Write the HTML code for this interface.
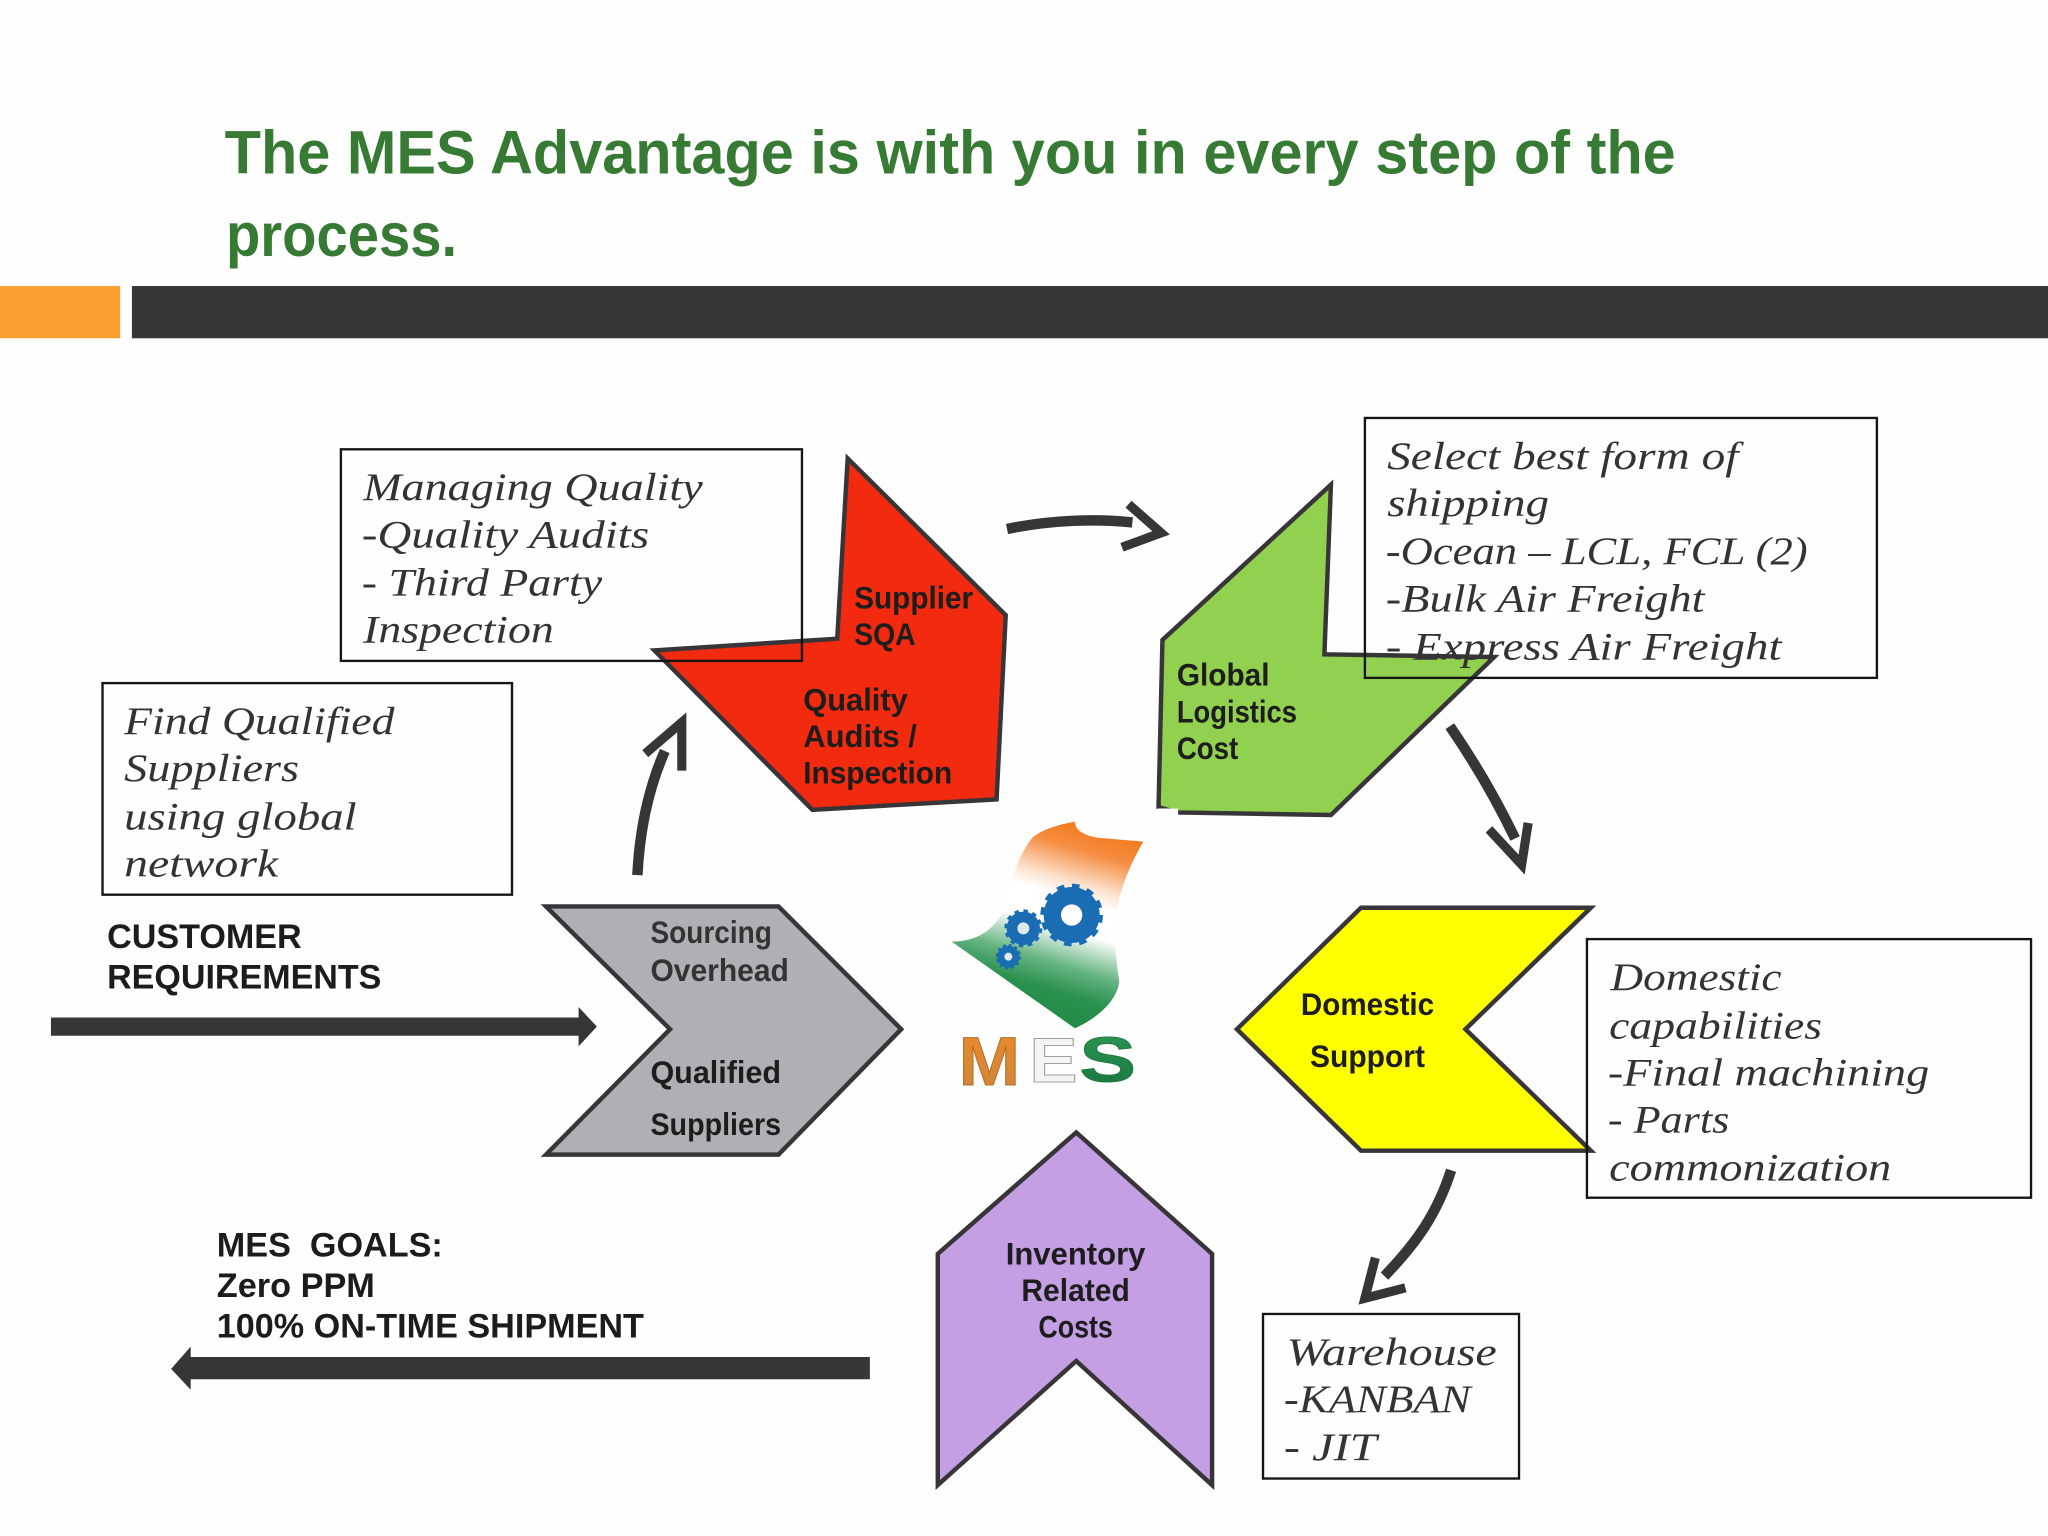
<!DOCTYPE html>
<html lang="en">
<head>
<meta charset="utf-8">
<title>The MES Advantage</title>
<style>
html,body{margin:0;padding:0;background:#fefefe;width:2048px;height:1536px;overflow:hidden}
svg{display:block}
.t{font-family:"Liberation Sans",sans-serif;font-weight:bold;fill:#367a34;font-size:47px}
.a{font-family:"Liberation Sans",sans-serif;font-weight:bold;fill:#1c1c1c;font-size:26px}
.c{font-family:"Liberation Sans",sans-serif;font-weight:bold;fill:#1d1d1d;font-size:24px}
.i{font-family:"Liberation Serif",serif;font-style:italic;fill:#333;font-size:30px}
.s{stroke:#373538;stroke-width:3.4;stroke-linejoin:miter;stroke-miterlimit:10}
.b{fill:none;stroke:#151515;stroke-width:1.8}
.ar{fill:none;stroke:#373538;stroke-width:8}
.ah{fill:none;stroke:#373538;stroke-width:7;stroke-linejoin:miter;stroke-miterlimit:10}
</style>
</head>
<body>
<svg width="2048" height="1536" viewBox="0 0 1568 1176" xmlns="http://www.w3.org/2000/svg">
<defs>
<linearGradient id="flag" gradientUnits="userSpaceOnUse" x1="405" y1="18" x2="234" y2="589">
<stop offset="0" stop-color="#f47a1c"/>
<stop offset="0.13" stop-color="#f58d42"/>
<stop offset="0.3" stop-color="#fce3cf"/>
<stop offset="0.38" stop-color="#ffffff"/>
<stop offset="0.53" stop-color="#ffffff"/>
<stop offset="0.72" stop-color="#62b37e"/>
<stop offset="0.85" stop-color="#2b9150"/>
<stop offset="1" stop-color="#1f8a46"/>
</linearGradient>
<linearGradient id="lm" x1="0" y1="0" x2="0" y2="1">
<stop offset="0" stop-color="#ee8a2c"/><stop offset="1" stop-color="#c9863c"/>
</linearGradient>
<linearGradient id="ls" x1="0" y1="0" x2="0" y2="1">
<stop offset="0" stop-color="#2f9a58"/><stop offset="1" stop-color="#17733c"/>
</linearGradient>
</defs>

<rect width="1568" height="1176" fill="#fefefe"/>

<text class="t" x="172" y="133" textLength="1111" lengthAdjust="spacingAndGlyphs">The MES Advantage is with you in every step of the</text>
<text class="t" x="173" y="196" textLength="177" lengthAdjust="spacingAndGlyphs">process.</text>

<rect x="0" y="219" width="92" height="40" fill="#fd9f30"/>
<rect x="101" y="219" width="1467" height="40" fill="#373538"/>

<polygon class="s" fill="#f12a10" points="649,351 770,471 763,612 622,620 501,498 641,489"/>
<polygon class="s" fill="#92d050" points="1019,371 1014,501 1144,503 1019,624 901,622 887,618 890,490"/>
<rect x="886" y="619" width="16" height="5" fill="#fefefe"/>
<polygon class="s" fill="#ffff00" points="1042,695 1218,695 1122,788 1218,881 1042,881 947,788"/>
<polygon class="s" fill="#b1afb3" points="418,694 596,694 690,788 596,884 418,884 513,788"/>
<polygon class="s" fill="#c59fe3" points="824,867 928,960 928,1137 824,1042 718,1137 718,960"/>

<!-- curved arrows -->
<path class="ar" d="M488,670 C490,630 498,600 509,575"/>
<polyline class="ah" points="494,577 522,553 522,590"/>
<path class="ar" d="M771,405 C805,398 840,397 867,400"/>
<polyline class="ah" points="864,386 889,408 859,419"/>
<path class="ar" d="M1110,556 C1130,585 1147,615 1160,642"/>
<polyline class="ah" points="1140,635 1165,662 1170,630"/>
<path class="ar" d="M1111,896 C1100,930 1084,952 1060,977"/>
<polyline class="ah" points="1053,963 1045,994 1076,986"/>

<!-- straight arrows -->
<polygon fill="#373538" points="39,779 443,779 443,771 457,786 443,801 443,793 39,793"/>
<polygon fill="#373538" points="666,1039 146,1039 146,1031 131,1048 146,1064 146,1056 666,1056"/>

<!-- boxes -->
<rect class="b" x="261" y="344" width="353" height="162"/>
<rect class="b" x="78.500" y="523" width="313.500" height="162"/>
<rect class="b" x="1045" y="320" width="392" height="199"/>
<rect class="b" x="1215" y="719" width="340" height="198"/>
<rect class="b" x="967" y="1006" width="196" height="126"/>

<!-- italic box text -->
<text class="i" x="278" y="383" textLength="260" lengthAdjust="spacingAndGlyphs">Managing Quality</text>
<text class="i" x="277" y="419" textLength="220" lengthAdjust="spacingAndGlyphs">-Quality Audits</text>
<text class="i" x="277" y="456" textLength="184" lengthAdjust="spacingAndGlyphs">- Third Party</text>
<text class="i" x="278" y="492" textLength="146" lengthAdjust="spacingAndGlyphs">Inspection</text>

<text class="i" x="95" y="562" textLength="207" lengthAdjust="spacingAndGlyphs">Find Qualified</text>
<text class="i" x="95" y="598" textLength="134" lengthAdjust="spacingAndGlyphs">Suppliers</text>
<text class="i" x="95" y="635" textLength="178" lengthAdjust="spacingAndGlyphs">using global</text>
<text class="i" x="95" y="671" textLength="118" lengthAdjust="spacingAndGlyphs">network</text>

<text class="i" x="1062" y="359" textLength="269" lengthAdjust="spacingAndGlyphs">Select best form of</text>
<text class="i" x="1062" y="395" textLength="124" lengthAdjust="spacingAndGlyphs">shipping</text>
<text class="i" x="1061" y="432" textLength="323" lengthAdjust="spacingAndGlyphs">-Ocean – LCL, FCL (2)</text>
<text class="i" x="1061" y="468" textLength="244" lengthAdjust="spacingAndGlyphs">-Bulk Air Freight</text>
<text class="i" x="1061" y="505" textLength="303" lengthAdjust="spacingAndGlyphs">- Express Air Freight</text>

<text class="i" x="1233" y="758" textLength="131" lengthAdjust="spacingAndGlyphs">Domestic</text>
<text class="i" x="1232" y="795" textLength="163" lengthAdjust="spacingAndGlyphs">capabilities</text>
<text class="i" x="1231" y="831" textLength="246" lengthAdjust="spacingAndGlyphs">-Final machining</text>
<text class="i" x="1231" y="867" textLength="93" lengthAdjust="spacingAndGlyphs">- Parts</text>
<text class="i" x="1232" y="904" textLength="216" lengthAdjust="spacingAndGlyphs">commonization</text>

<text class="i" x="985" y="1045" textLength="161" lengthAdjust="spacingAndGlyphs">Warehouse</text>
<text class="i" x="983" y="1081" textLength="143" lengthAdjust="spacingAndGlyphs">-KANBAN</text>
<text class="i" x="983" y="1118" textLength="71" lengthAdjust="spacingAndGlyphs">- JIT</text>

<!-- plain labels -->
<text class="a" x="82" y="726" textLength="149" lengthAdjust="spacingAndGlyphs">CUSTOMER</text>
<text class="a" x="82" y="757" textLength="210" lengthAdjust="spacingAndGlyphs">REQUIREMENTS</text>
<text class="a" x="166" y="962" textLength="173" lengthAdjust="spacingAndGlyphs" xml:space="preserve">MES  GOALS:</text>
<text class="a" x="166" y="993" textLength="121" lengthAdjust="spacingAndGlyphs">Zero PPM</text>
<text class="a" x="166" y="1024" textLength="327" lengthAdjust="spacingAndGlyphs">100% ON-TIME SHIPMENT</text>

<!-- shape labels -->
<text class="c" x="654" y="466" textLength="91" lengthAdjust="spacingAndGlyphs">Supplier</text>
<text class="c" x="654" y="494" textLength="47" lengthAdjust="spacingAndGlyphs">SQA</text>
<text class="c" x="615" y="544" textLength="80" lengthAdjust="spacingAndGlyphs">Quality</text>
<text class="c" x="615" y="572" textLength="87" lengthAdjust="spacingAndGlyphs">Audits /</text>
<text class="c" x="615" y="600" textLength="114" lengthAdjust="spacingAndGlyphs">Inspection</text>

<text class="c" x="901" y="525" textLength="71" lengthAdjust="spacingAndGlyphs">Global</text>
<text class="c" x="901" y="553" textLength="92" lengthAdjust="spacingAndGlyphs">Logistics</text>
<text class="c" x="901" y="581" textLength="47" lengthAdjust="spacingAndGlyphs">Cost</text>

<text class="c" x="498" y="722" textLength="93" lengthAdjust="spacingAndGlyphs" fill-opacity="0.85">Sourcing</text>
<text class="c" x="498" y="751" textLength="106" lengthAdjust="spacingAndGlyphs" fill-opacity="0.85">Overhead</text>
<text class="c" x="498" y="829" textLength="100" lengthAdjust="spacingAndGlyphs">Qualified</text>
<text class="c" x="498" y="869" textLength="100" lengthAdjust="spacingAndGlyphs">Suppliers</text>

<text class="c" x="996" y="777" textLength="102" lengthAdjust="spacingAndGlyphs">Domestic</text>
<text class="c" x="1003" y="817" textLength="88" lengthAdjust="spacingAndGlyphs">Support</text>

<text class="c" x="770" y="968" textLength="107" lengthAdjust="spacingAndGlyphs">Inventory</text>
<text class="c" x="782" y="996" textLength="83" lengthAdjust="spacingAndGlyphs">Related</text>
<text class="c" x="795" y="1024" textLength="57" lengthAdjust="spacingAndGlyphs">Costs</text>

<!-- logo -->
<g transform="scale(0.765625) translate(940,815) scale(0.33333)">
<path fill="url(#flag)" d="M405,20 C405,40 420,58 470,68 L610,80 C575,140 550,200 535,260 C520,340 525,420 538,500 C530,560 470,610 405,640 L35,380 C110,380 160,345 190,290 C215,210 225,130 280,65 C315,40 360,28 405,20 Z"/>
<g fill="#1a6db3">
<circle cx="395" cy="300" r="84" fill="none" stroke="#1a6db3" stroke-width="20" stroke-dasharray="22 22"/>
<circle cx="395" cy="300" r="84"/>
<circle cx="250" cy="340" r="50" fill="none" stroke="#1a6db3" stroke-width="14" stroke-dasharray="13 13.170"/>
<circle cx="250" cy="340" r="50"/>
<circle cx="205" cy="425" r="33" fill="none" stroke="#1a6db3" stroke-width="10" stroke-dasharray="9 8.280"/>
<circle cx="205" cy="425" r="33"/>
</g>
<circle cx="395" cy="300" r="32" fill="#ffffff"/>
<circle cx="250" cy="340" r="18" fill="#dfe8ea"/>
<circle cx="205" cy="425" r="12" fill="#dfe8ea"/>
<text transform="translate(56,810) scale(1.08,1)" font-family="Liberation Sans,sans-serif" font-weight="bold" font-size="205" fill="url(#lm)" stroke="#b5702a" stroke-width="3">M</text>
<text transform="translate(268,801) scale(1.14,1)" font-family="Liberation Sans,sans-serif" font-weight="bold" font-size="190" fill="#f4f4f4" stroke="#a0a0a0" stroke-width="3">E</text>
<text transform="translate(418,799) scale(1.34,1)" font-family="Liberation Sans,sans-serif" font-weight="bold" font-size="190" fill="url(#ls)" stroke="#1d7a40" stroke-width="3">S</text>
</g>
</svg>
</body>
</html>
